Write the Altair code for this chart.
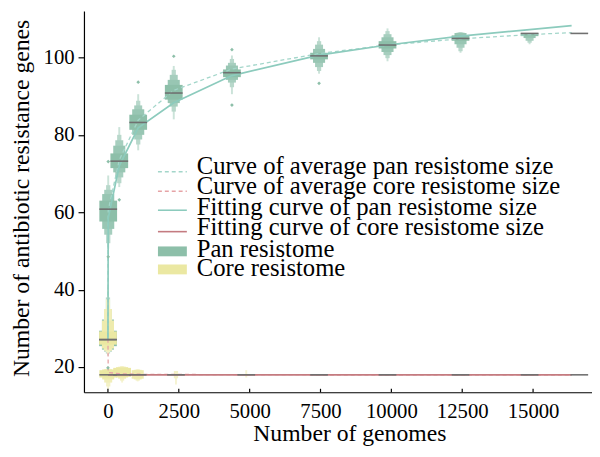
import altair as alt
import pandas as pd

# ---------------- data ----------------
pan_n = [1, 10, 400, 1068, 2322, 4375, 7449, 9864, 12440, 14877, 16630]
pan_median = [27.1, 60.8, 73.2, 83.2, 90.8, 96.05, 100.4, 103.2, 104.9, 106.2, 106.2]
pan_lv_low = [
    [25.4, 24.5, 24.0, 23.5, 23.0],
    [57.6, 55.7, 54.2, 52.0, 50.6],
    [71.4, 70.3, 69.0, 67.5, 66.5],
    [81.3, 80.0, 78.8, 77.5, 76.0],
    [89.1, 88.2, 87.3, 86.0, 84.0],
    [94.9, 94.2, 93.5, 92.3, 90.5],
    [99.5, 98.6, 97.5, 96.5, 95.8],
    [102.3, 101.4, 100.6, 99.8, 99.0],
    [104.3, 103.4, 102.5, 101.6, 101.2],
    [105.5, 105.0, 104.3, 103.8, 103.4],
    [106.2, 106.2, 106.2, 106.2, 106.2],
]
pan_lv_high = [
    [29.4, 32.3, 35.0, 38.0, 40.5],
    [63.0, 64.7, 65.8, 67.0, 69.5],
    [75.2, 77.2, 78.6, 80.0, 82.0],
    [85.2, 86.6, 87.6, 88.8, 90.5],
    [92.9, 94.2, 95.5, 96.8, 97.8],
    [96.9, 97.9, 98.6, 99.6, 100.5],
    [101.2, 102.2, 103.3, 104.2, 105.2],
    [104.2, 105.2, 106.0, 106.8, 107.5],
    [105.7, 106.3, 106.4, 106.5, 106.5],
    [106.3, 106.3, 106.3, 106.3, 106.3],
    [106.2, 106.2, 106.2, 106.2, 106.2],
]
pan_out_n = [1, 10, 10, 400, 1068, 2322, 4375, 4375, 7449]
pan_out_v = [19.8, 48.5, 73.1, 63.2, 93.6, 100.3, 87.7, 102.0, 93.3]

core_n = [1, 10, 500, 1050, 2400, 4880, 7449, 9864, 12440, 14877, 16630]
core_median = [27.1, 18.0, 18.0, 18.0, 18.0, 18.0, 18.0, 18.0, 18.0, 18.0, 18.0]
core_lv_low = [
    [25.8, 24.8, 24.2, 23.8, 23.3],
    [17.3, 16.8, 16.0, 15.0, 14.3],
    [17.5, 17.3, 17.0, 16.5, 16.0],
    [18.0, 17.0, 16.8, 16.5, 16.3],
    [18.0, 18.0, 18.0, 17.1, 15.5],
    [18.0, 18.0, 18.0, 18.0, 17.3],
    [18.0] * 5, [18.0] * 5, [18.0] * 5, [18.0] * 5, [18.0] * 5,
]
core_lv_high = [
    [29.2, 32.0, 35.0, 37.5, 40.0],
    [19.2, 19.4, 19.5, 19.6, 19.7],
    [19.8, 20.0, 20.1, 20.2, 20.2],
    [18.0, 19.2, 19.3, 19.4, 19.4],
    [18.0, 18.0, 18.0, 19.0, 19.0],
    [18.0, 18.0, 18.0, 18.0, 19.2],
    [18.0] * 5, [18.0] * 5, [18.0] * 5, [18.0] * 5, [18.0] * 5,
]

curve_n = [1, 10, 400, 1068, 2322, 4375, 7449, 9864, 12440, 14877, 16360]
pan_mean = [27.8, 60.5, 73.5, 83.8, 91.5, 97.0, 101.0, 103.2, 104.8, 105.9, 106.4]
pan_fit = [27.2, 58.5, 72.0, 81.8, 88.3, 95.3, 100.6, 103.2, 105.5, 107.2, 108.2]
core_mean = [27.3, 18.6, 18.3, 18.15, 18.1, 18.05, 18.02, 18.01, 18.0, 18.0, 18.0]
core_fit = [18.0, 18.0, 18.0, 18.0, 18.0, 18.0, 18.0, 18.0, 18.0, 18.0, 18.0]

x_ticks = [0, 2500, 5000, 7500, 10000, 12500, 15000]
y_ticks = [20, 40, 60, 80, 100]
legend_labels = [
    "Curve of average pan resistome size",
    "Curve of average core resistome size",
    "Fitting curve of pan resistome size",
    "Fitting curve of core resistome size",
    "Pan resistome",
    "Core resistome",
]

# ---------------- style ----------------
FONT = "Liberation Serif"
W, H = 515, 386.5
HALF = 313  # half box width in genome units
FRAC = [1.0, 0.68, 0.45, 0.24, 0.11]
PAN_COLORS = ["#8dbfa9", "#98c6b3", "#a6cebe", "#b8d8cb", "#cbe3d9"]
CORE_COLORS = ["#ebe8a2", "#eeebad", "#f1eeb9", "#f3f1c6", "#f6f4d2"]
PAN_MEAN_C = "#a3d6ca"
PAN_FIT_C = "#8ccbbd"
CORE_MEAN_C = "#e6a3a6"
CORE_FIT_C = "#c47b80"
MED_C = "#707070"

xs = alt.Scale(domain=[-846, 17079], nice=False, zero=False)
ys = alt.Scale(domain=[13.5, 112.0], nice=False, zero=False)
xaxis = alt.Axis(values=x_ticks, ticks=False, tickSize=0, grid=False, format="d",
                 labelFont=FONT, labelFontSize=21, labelColor="black",
                 labelPadding=26, labelBaseline="alphabetic",
                 titleFont=FONT, titleFontSize=24, titleFontWeight="normal",
                 titleColor="black", titleX=269, titleY=48.5, titleBaseline="alphabetic",
                 domainColor="black", domainWidth=1.2)
yaxis = alt.Axis(values=y_ticks, tickSize=6, tickColor="black", tickWidth=1.2, grid=False,
                 labelFont=FONT, labelFontSize=21, labelColor="black", labelPadding=4,
                 titleFont=FONT, titleFontSize=24, titleFontWeight="normal",
                 titleColor="black", titleX=-56.5, titleY=189.5, titleBaseline="alphabetic",
                 domainColor="black", domainWidth=1.2)


def X(f):
    return alt.X(f"{f}:Q", scale=xs, axis=xaxis, title="Number of genomes")


def Y(f):
    return alt.Y(f"{f}:Q", scale=ys, axis=yaxis, title="Number of antibiotic resistance genes")


# ---------------- boxen rectangles ----------------
rows = []
keys, colors = [], []
for kind, ns, lows, highs, cols in [("pan", pan_n, pan_lv_low, pan_lv_high, PAN_COLORS),
                                    ("core", core_n, core_lv_low, core_lv_high, CORE_COLORS)]:
    for li in range(4, -1, -1):
        keys.append(f"{kind}{li}")
        colors.append(cols[li])
        for gi, n in enumerate(ns):
            lo, hi = lows[gi][li], highs[gi][li]
            if hi - lo <= 0:
                continue
            hw = HALF * FRAC[li]
            rows.append(dict(x=n - hw, x2=n + hw, y=lo, y2=hi, key=f"{kind}{li}"))
rect_df = pd.DataFrame(rows)
rect_df["order"] = range(len(rect_df))

boxes = alt.Chart(rect_df).mark_rect(opacity=1).encode(
    x=X("x"), x2="x2", y=Y("y"), y2="y2",
    color=alt.Color("key:N", scale=alt.Scale(domain=keys, range=colors), legend=None),
    order="order:Q",
)

med_rows = []
for ns, meds in [(pan_n, pan_median), (core_n, core_median)]:
    for n, m in zip(ns, meds):
        med_rows.append(dict(x=n - HALF, x2=n + HALF, y=m))
med_df = pd.DataFrame(med_rows)
medians = alt.Chart(med_df).mark_rule(color=MED_C, strokeWidth=1.6).encode(
    x=X("x"), x2="x2", y=Y("y"))

out_df = pd.DataFrame({"n": pan_out_n, "v": pan_out_v})
outliers = alt.Chart(out_df).mark_point(shape="diamond", filled=True, size=14,
                                        color=PAN_COLORS[0], opacity=1).encode(x=X("n"), y=Y("v"))

curve_df = pd.DataFrame({"n": curve_n, "pan_mean": pan_mean, "pan_fit": pan_fit,
                         "core_mean": core_mean, "core_fit": core_fit})
l_pan_mean = alt.Chart(curve_df).mark_line(color=PAN_MEAN_C, strokeWidth=1.3, strokeDash=[4, 3]).encode(
    x=X("n"), y=Y("pan_mean"))
l_core_mean = alt.Chart(curve_df).mark_line(color=CORE_MEAN_C, strokeWidth=1.3, strokeDash=[4, 3]).encode(
    x=X("n"), y=Y("core_mean"))
l_pan_fit = alt.Chart(curve_df).mark_line(color=PAN_FIT_C, strokeWidth=1.7).encode(
    x=X("n"), y=Y("pan_fit"))
l_core_fit = alt.Chart(curve_df).mark_line(color=CORE_FIT_C, strokeWidth=1.7).encode(
    x=X("n"), y=Y("core_fit"))

tick_df = pd.DataFrame({"t": x_ticks})
xticks = alt.Chart(tick_df).mark_rule(color="black", strokeWidth=1.2).encode(
    x=X("t"), y=alt.value(H - 3.5), y2=alt.value(H))

# ---------------- legend ----------------
LX0, LX1, TX = 75, 104.3, 114.3
TEXT_Y = [165, 185.5, 207, 227.5, 249.5, 268.5]
SYM_Y = [163, 182.7, 202, 223.7]
RECT_Y = [(238.7, 248.7), (257, 267)]
one = pd.DataFrame({"a": [0]})
legend_layers = []
for (c, dash), sy in zip([(PAN_MEAN_C, [4, 3]), (CORE_MEAN_C, [4, 3]), (PAN_FIT_C, None), (CORE_FIT_C, None)], SYM_Y):
    kw = dict(color=c, strokeWidth=1.6)
    if dash:
        kw["strokeDash"] = dash
    legend_layers.append(alt.Chart(one).mark_rule(**kw).encode(
        x=alt.value(LX0), x2=alt.value(LX1), y=alt.value(sy)))
for c, (y0, y1) in zip([PAN_COLORS[0], CORE_COLORS[0]], RECT_Y):
    legend_layers.append(alt.Chart(one).mark_rect(color=c).encode(
        x=alt.value(LX0), x2=alt.value(LX1), y=alt.value(y0), y2=alt.value(y1)))
for lab, ty in zip(legend_labels, TEXT_Y):
    legend_layers.append(alt.Chart(pd.DataFrame({"t": [lab]})).mark_text(
        font=FONT, fontSize=25, align="left", baseline="alphabetic", color="black").encode(
        x=alt.value(TX), y=alt.value(ty), text="t:N"))

chart = alt.layer(
    boxes, l_pan_mean, l_core_mean, l_pan_fit, l_core_fit, medians, outliers, xticks,
    *legend_layers,
).properties(
    width=W, height=H,
    padding={"left": 77, "top": 0, "right": 0, "bottom": 53},
    autosize=alt.AutoSizeParams(type="none"),
    background="white",
).configure_view(stroke=None)

chart.save("out.html", embed_options={"renderer": "svg", "actions": False})
